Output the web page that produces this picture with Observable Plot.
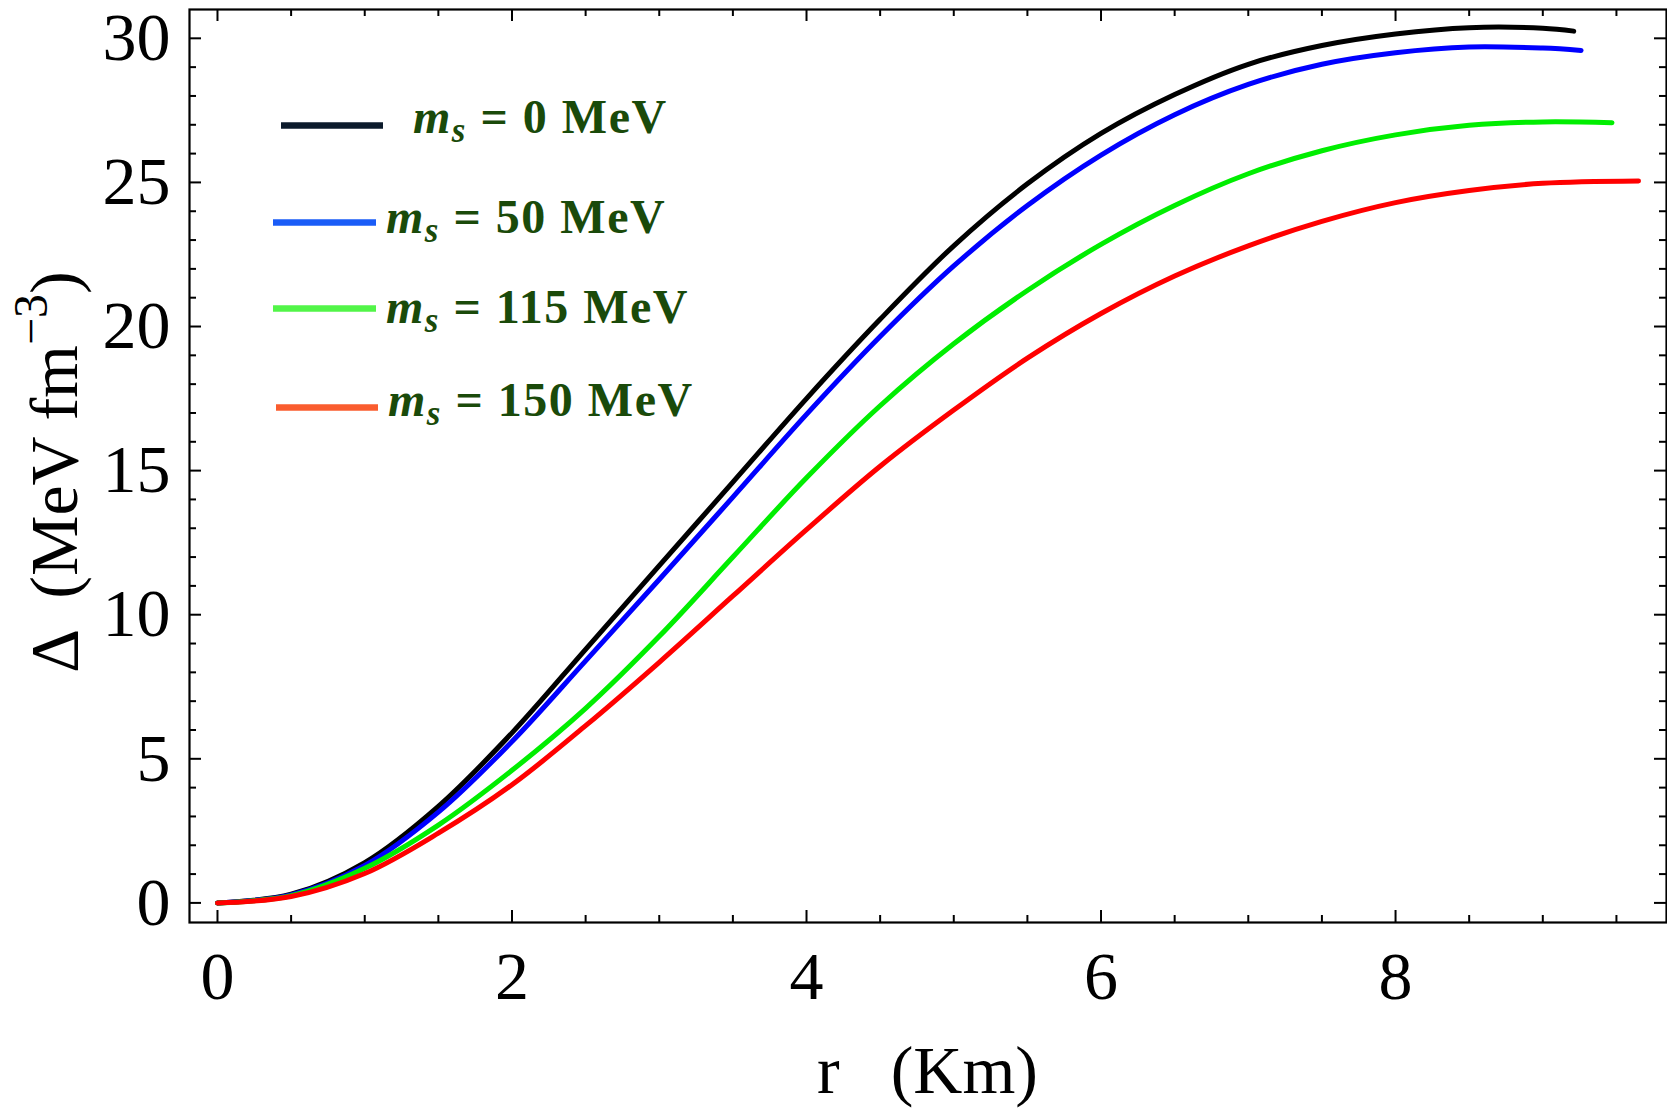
<!DOCTYPE html>
<html>
<head>
<meta charset="utf-8">
<script src="https://cdn.jsdelivr.net/npm/d3@7"></script>
<script src="https://cdn.jsdelivr.net/npm/@observablehq/plot@0.6"></script>
<style>
  html, body { margin: 0; padding: 0; background: #fff; }
  #chart { width: 1667px; height: 1110px; }
</style>
</head>
<body>
<div id="chart"></div>
<script>
// ---- Data ----
const rMs0   = [0, 0.5, 1, 1.5, 2, 2.5, 3, 3.5, 4, 4.5, 5, 5.5, 6, 6.5, 7, 7.5, 8, 8.5, 9, 9.21];
const dMs0   = [0, 0.3, 1.4, 3.35, 5.9, 8.8, 11.7, 14.6, 17.5, 20.25, 22.8, 24.95, 26.7, 28.05, 29.1, 29.75, 30.15, 30.37, 30.35, 30.25];
const rMs50  = [0, 0.5, 1, 1.5, 2, 2.5, 3, 3.5, 4, 4.5, 5, 5.5, 6, 6.5, 7, 7.5, 8, 8.5, 9, 9.26];
const dMs50  = [0, 0.28, 1.3, 3.15, 5.6, 8.4, 11.22, 14.08, 16.95, 19.65, 22.1, 24.2, 25.95, 27.35, 28.4, 29.1, 29.5, 29.7, 29.66, 29.58];
const rMs115 = [0, 0.5, 1, 1.5, 2, 2.5, 3, 3.5, 4, 4.5, 5, 5.5, 6, 6.5, 7, 7.5, 8, 8.5, 9, 9.47];
const dMs115 = [0, 0.25, 1.2, 2.7, 4.6, 6.75, 9.25, 12.0, 14.75, 17.25, 19.4, 21.25, 22.85, 24.2, 25.3, 26.1, 26.65, 26.98, 27.1, 27.07];
const rMs150 = [0, 0.5, 1, 1.5, 2, 2.5, 3, 3.5, 4, 4.5, 5, 5.5, 6, 6.5, 7, 7.5, 8, 8.5, 9, 9.65];
const dMs150 = [0, 0.22, 1.02, 2.42, 4.1, 6.15, 8.35, 10.65, 12.95, 15.15, 17.1, 18.9, 20.45, 21.75, 22.8, 23.65, 24.3, 24.72, 24.97, 25.05];

const seriesMs     = ["0", "50", "115", "150"];
const curveColors  = ["#000000", "#0000ff", "#00ee00", "#ff0000"];
const legendColors = ["#0b1a2b", "#1a5cf7", "#52f548", "#fa5c2e"];

const xMajor = [0, 2, 4, 6, 8];
const xMinor = [0.5, 1, 1.5, 2.5, 3, 3.5, 4.5, 5, 5.5, 6.5, 7, 7.5, 8.5, 9, 9.5];
const yMajor = [0, 5, 10, 15, 20, 25, 30];
const yMinor = [1, 2, 3, 4, 6, 7, 8, 9, 11, 12, 13, 14, 16, 17, 18, 19, 21, 22, 23, 24, 26, 27, 28, 29];

const xLabel = ["r", "(Km)"];
const yLabel = ["Δ", "(MeV fm", "−3", ")"];

// ---- Build tables ----
const rs = [rMs0, rMs50, rMs115, rMs150];
const ds = [dMs0, dMs50, dMs115, dMs150];
const tables = rs.map((r, i) => r.map((v, j) => ({r: v, d: ds[i][j], ms: seriesMs[i]})));

// ---- Layout ----
const W = 1667, H = 1110;
const mL = 189, mR = 1, mT = 9, mB = 188;
const plotW = W - mL - mR, plotH = H - mT - mB;
const majorLen = 12, minorLen = 7;
const FONT = "'Liberation Serif', 'Times New Roman', serif";

const tickStyle = {stroke: "#000", strokeWidth: 2};

const plot = Plot.plot({
  width: W,
  height: H,
  marginLeft: mL, marginRight: mR, marginTop: mT, marginBottom: mB,
  x: {domain: [-0.19, 9.84]},
  y: {domain: [-0.68, 31.0]},
  style: {fontFamily: FONT, fontSize: "68px", background: "#fff", color: "#000", overflow: "visible"},
  marks: [
    Plot.axisX({ticks: xMajor, tickSize: 0, tickPadding: 28, label: null, fontSize: 68, fontFamily: FONT}),
    Plot.axisY({ticks: yMajor, tickSize: 0, tickPadding: 19, label: null, fontSize: 68, fontFamily: FONT}),
    // bottom ticks
    Plot.tickX(xMajor, {x: d => d, insetTop: plotH - majorLen, ...tickStyle}),
    Plot.tickX(xMinor, {x: d => d, insetTop: plotH - minorLen, ...tickStyle}),
    // top ticks
    Plot.tickX(xMajor, {x: d => d, insetBottom: plotH - majorLen, ...tickStyle}),
    Plot.tickX(xMinor, {x: d => d, insetBottom: plotH - minorLen, ...tickStyle}),
    // left ticks
    Plot.tickY(yMajor, {y: d => d, insetRight: plotW - majorLen, ...tickStyle}),
    Plot.tickY(yMinor, {y: d => d, insetRight: plotW - minorLen, ...tickStyle}),
    // right ticks
    Plot.tickY(yMajor, {y: d => d, insetLeft: plotW - majorLen, ...tickStyle}),
    Plot.tickY(yMinor, {y: d => d, insetLeft: plotW - minorLen, ...tickStyle}),
    ...tables.map((t, i) => Plot.line(t, {x: "r", y: "d", stroke: curveColors[i], strokeWidth: 5, curve: "catmull-rom"})),
    Plot.frame({stroke: "#000", strokeWidth: 2.2})
  ]
});

document.getElementById("chart").appendChild(plot);

const svg = d3.select(plot);

// x-axis label
svg.append("text")
  .attr("x", 927.5).attr("y", 1093)
  .attr("text-anchor", "middle")
  .attr("font-family", FONT).attr("font-size", 68).attr("fill", "#000")
  .style("white-space", "pre")
  .text(xLabel[0] + "   " + xLabel[1]);

// y-axis label (rotated)
const yl = svg.append("text")
  .attr("transform", "translate(77,472) rotate(-90)")
  .attr("text-anchor", "middle")
  .attr("font-family", FONT).attr("font-size", 68).attr("fill", "#000")
  .style("white-space", "pre");
yl.append("tspan").text(yLabel[0] + "  " + yLabel[1]);
yl.append("tspan").attr("font-size", 48).attr("dy", -30).text(yLabel[2]);
yl.append("tspan").attr("dy", 30).text(yLabel[3]);

// legend
const legendPos = [
  {x1: 281, x2: 383, y: 125.5, tx: 413, ty: 133},
  {x1: 273, x2: 376, y: 222.5, tx: 386, ty: 233},
  {x1: 273, x2: 376, y: 308.5, tx: 386, ty: 323},
  {x1: 276, x2: 378, y: 407.5, tx: 388, ty: 416}
];
const legendTextColor = "#1a4a0a";
seriesMs.forEach((ms, i) => {
  const p = legendPos[i];
  svg.append("line")
    .attr("x1", p.x1).attr("x2", p.x2).attr("y1", p.y).attr("y2", p.y)
    .attr("stroke", legendColors[i]).attr("stroke-width", 6.5);
  const t = svg.append("text")
    .attr("x", p.tx).attr("y", p.ty)
    .attr("text-anchor", "start")
    .attr("font-family", FONT).attr("font-size", 48).attr("font-weight", "bold")
    .attr("fill", legendTextColor)
    .attr("letter-spacing", 1.5)
    .style("white-space", "pre");
  t.append("tspan").attr("font-style", "italic").text("m");
  t.append("tspan").attr("font-style", "italic").attr("font-size", 35).attr("dy", 9).text("s");
  t.append("tspan").attr("dy", -9).text(" = " + ms + " MeV");
});
</script>
</body>
</html>
